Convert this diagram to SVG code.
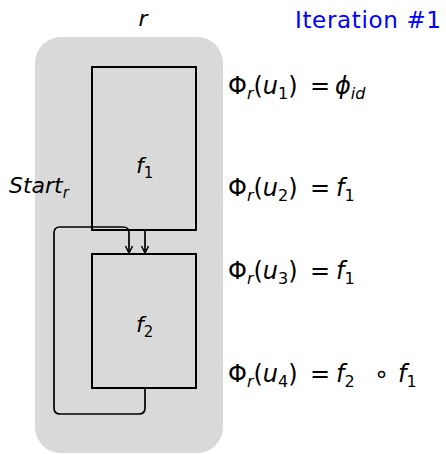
<svg xmlns="http://www.w3.org/2000/svg" width="446" height="454" viewBox="0 0 446 454">
<style>
text{font-family:"DejaVu Sans","Liberation Sans",sans-serif;font-size:22px;fill:#000}
.lb{font-size:24px}
.it{font-style:italic}
.sub{font-size:15px}
.lb .sub{font-size:16px}
.box{fill:none;stroke:#000;stroke-width:2}
.con{fill:none;stroke:#000;stroke-width:1.7}
</style>
<defs>
<marker id="ah" markerWidth="10" markerHeight="10" refX="8" refY="5" orient="auto" markerUnits="userSpaceOnUse">
<path d="M1,1.5 L8,5 L1,8.5" fill="none" stroke="#000" stroke-width="1.5"/>
</marker>
</defs>
<rect id="region" x="35" y="37" width="188" height="416" rx="26" fill="#d9d9d9"/>
<text x="143" y="26" text-anchor="middle" class="it">r</text>
<text x="441" y="28" text-anchor="end" style="fill:#0000ff;font-size:23px" textLength="146">Iteration #1</text>
<g id="f1">
<rect class="box" x="92" y="67" width="104" height="163"/>
<text x="136" y="173" class="it">f<tspan class="sub" dy="5" style="font-style:normal">1</tspan></text>
</g>
<g id="f2">
<rect class="box" x="92" y="254" width="104" height="134"/>
<text x="136" y="332" class="it">f<tspan class="sub" dy="5" style="font-style:normal">2</tspan></text>
</g>
<text x="9" y="193" class="it">Start<tspan class="sub" dy="5">r</tspan></text>
<g id="connectors">
<path class="con" d="M145,230 L145,253" marker-end="url(#ah)"/>
<path class="con" d="M145,388 L145,408 Q145,414 139,414 L60,414 Q54,414 54,408 L54,233 Q54,227 60,227 L123,227 Q129,227 129,233 L129,253" marker-end="url(#ah)"/>
</g>
<g id="labels">
<text class="lb" x="228" y="94">Φ<tspan class="sub it" dy="5">r</tspan><tspan dy="-5">(</tspan><tspan class="it">u</tspan><tspan class="sub" dy="5">1</tspan><tspan dy="-5">)</tspan><tspan x="310">=</tspan><tspan class="it" x="335">ϕ</tspan><tspan class="sub it" dy="5">id</tspan></text>
<text class="lb" x="228" y="196">Φ<tspan class="sub it" dy="5">r</tspan><tspan dy="-5">(</tspan><tspan class="it">u</tspan><tspan class="sub" dy="5">2</tspan><tspan dy="-5">)</tspan><tspan x="310">=</tspan><tspan class="it" x="336">f</tspan><tspan class="sub" dy="5">1</tspan></text>
<text class="lb" x="228" y="279">Φ<tspan class="sub it" dy="5">r</tspan><tspan dy="-5">(</tspan><tspan class="it">u</tspan><tspan class="sub" dy="5">3</tspan><tspan dy="-5">)</tspan><tspan x="310">=</tspan><tspan class="it" x="336">f</tspan><tspan class="sub" dy="5">1</tspan></text>
<text class="lb" x="228" y="382">Φ<tspan class="sub it" dy="5">r</tspan><tspan dy="-5">(</tspan><tspan class="it">u</tspan><tspan class="sub" dy="5">4</tspan><tspan dy="-5">)</tspan><tspan x="310">=</tspan><tspan class="it" x="336">f</tspan><tspan class="sub" dy="5">2</tspan><tspan dy="-5" x="374">∘</tspan><tspan class="it" x="398">f</tspan><tspan class="sub" dy="5">1</tspan></text>
</g>
</svg>
